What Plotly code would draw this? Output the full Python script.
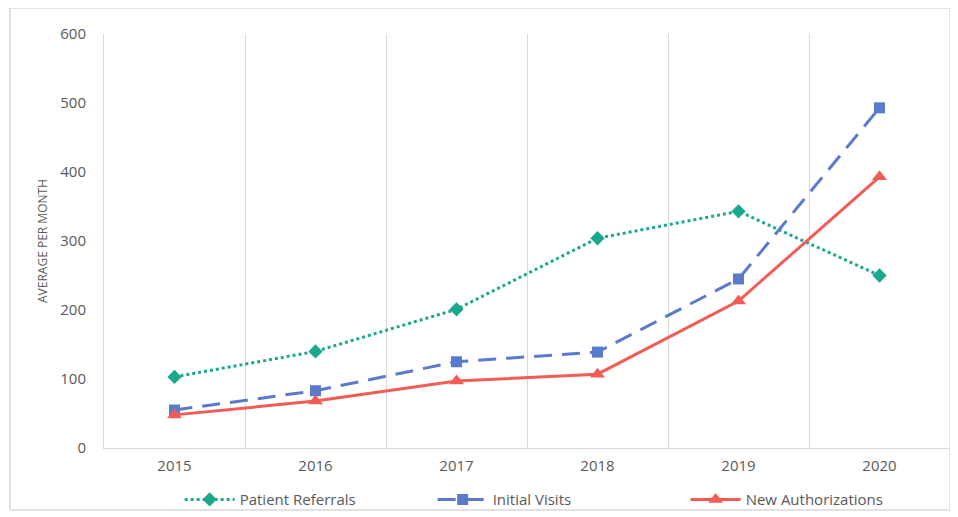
import plotly.graph_objects as go

# valores
ANOS = ["2015", "2016", "2017", "2018", "2019", "2020"]
PATIENT_REFERRALS = [103, 140, 201, 304, 343, 250]
INITIAL_VISITS = [55, 83, 125, 139, 245, 493]
NEW_AUTHORIZATIONS = [48, 68, 97, 107, 213, 393]

CINZA_TXT = "#595959"
CINZA_LINHA = "#d9d9d9"

fig = go.Figure()
fig.add_trace(go.Scatter(
    x=ANOS, y=PATIENT_REFERRALS, mode="lines+markers", name="Patient Referrals",
    line=dict(color="#1BA98E", width=3, dash="dot"),
    marker=dict(symbol="diamond", size=11, color="#1BA98E"),
))
fig.add_trace(go.Scatter(
    x=ANOS, y=INITIAL_VISITS, mode="lines+markers", name="Initial Visits",
    line=dict(color="#5A7BCD", width=3, dash="18px,10px"),
    marker=dict(symbol="square", size=11, color="#5A7BCD"),
))
fig.add_trace(go.Scatter(
    x=ANOS, y=NEW_AUTHORIZATIONS, mode="lines+markers", name="New Authorizations",
    line=dict(color="#F25C54", width=3),
    marker=dict(symbol="triangle-up", size=13, color="#F25C54"),
))

fig.update_xaxes(
    type="category", tickson="boundaries", ticks="", showgrid=True,
    gridcolor=CINZA_LINHA, gridwidth=1, showline=True, linecolor=CINZA_LINHA,
    tickfont=dict(size=15, color=CINZA_TXT), range=[-0.5, 5.5],
    ticklabelstandoff=4, automargin=False,
)
fig.update_yaxes(
    range=[0, 600], dtick=100, showgrid=False, zeroline=False,
    showline=True, linecolor=CINZA_LINHA, ticks="",
    ticklabelstandoff=14, automargin=False,
    tickfont=dict(size=15, color=CINZA_TXT),
    title=dict(text="AVERAGE PER MONTH", font=dict(size=12, color=CINZA_TXT), standoff=10),
)

# moldura em volta do grafico
fig.add_shape(type="rect", xref="paper", yref="paper",
              x0=-94 / 846, x1=1.0, y0=-62 / 414, y1=1 + 26 / 414,
              line=dict(color=CINZA_LINHA, width=1.5), layer="below")

# a pagina tem margem de 8px no body
fig.update_layout(
    width=950, height=509,
    margin=dict(l=96, r=8, t=26, b=69, autoexpand=False),
    template="plotly_white",
    plot_bgcolor="white", paper_bgcolor="white",
    font=dict(family="Open Sans", color=CINZA_TXT),
    showlegend=True,
    legend=dict(orientation="h", x=0.538, xanchor="center", y=-0.085, yanchor="top",
                bgcolor="rgba(0,0,0,0)",
                font=dict(size=15, color=CINZA_TXT), entrywidth=188, itemwidth=50),
)

fig.write_html("out.html")
